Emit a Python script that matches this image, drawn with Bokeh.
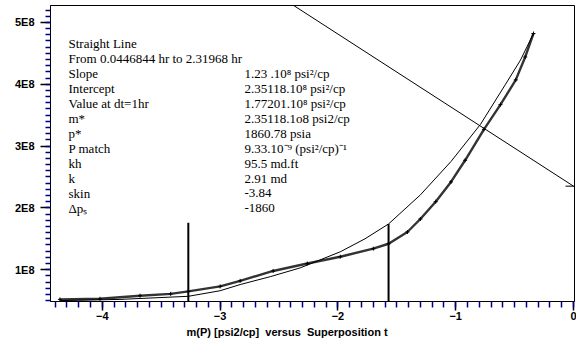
from bokeh.plotting import figure
from bokeh.models import FixedTicker, Label, Range1d, Title
from bokeh.embed import file_html
from bokeh.resources import INLINE

# ---- data ----
data_x = [-4.36, -4.02, -3.68, -3.42, -3.27, -3.00, -2.83, -2.55, -2.26, -1.98, -1.70,
          -1.57, -1.41, -1.30, -1.17, -1.04, -0.92, -0.76, -0.62, -0.49, -0.41, -0.34]
data_y = [0.52e8, 0.53e8, 0.58e8, 0.61e8, 0.65e8, 0.73e8, 0.82e8, 0.98e8, 1.10e8, 1.21e8,
          1.34e8, 1.42e8, 1.61e8, 1.82e8, 2.10e8, 2.42e8, 2.77e8, 3.27e8, 3.67e8, 4.07e8,
          4.44e8, 4.82e8]

model_x = [-4.36, -3.85, -3.27, -3.00, -2.83, -2.57, -2.32, -1.98, -1.77, -1.57, -1.30,
           -1.04, -0.79, -0.58, -0.45, -0.34]
model_y = [0.50e8, 0.52e8, 0.57e8, 0.66e8, 0.76e8, 0.89e8, 1.03e8, 1.29e8, 1.50e8, 1.74e8,
           2.21e8, 2.75e8, 3.35e8, 3.99e8, 4.39e8, 4.82e8]

slope = 1.23e8
intercept = 2.35118e8
line_x = [-2.6, 0.0]

range_x = [-3.27, -1.57]
range_top = [1.76e8, 1.74e8]

x_major = [-4, -3, -2, -1, 0]
y_major = [1e8, 2e8, 3e8, 4e8, 5e8]
y_major_labels = ["1E8", "2E8", "3E8", "4E8", "5E8"]

info_labels = ["Straight Line", "From 0.0446844 hr to 2.31968 hr", "Slope", "Intercept",
               "Value at dt=1hr", "m*", "p*", "P match", "kh", "k", "skin", "\u0394p\u209b"]
info_values = ["", "", "1.23 .10\u2078 psi\u00b2/cp", "2.35118.10\u2078 psi\u00b2/cp",
               "1.77201.10\u2078 psi\u00b2/cp", "2.35118.1o8 psi2/cp", "1860.78 psia",
               "9.33.10\u207b\u2079 (psi\u00b2/cp)\u207b\u00b9", "95.5 md.ft", "2.91 md",
               "-3.84", "-1860"]

x_title = "m(P) [psi2/cp]\u00a0 versus\u00a0 Superposition t"

# ---- figure ----
X0, X1 = -4.44, 0.0085
Y0, Y1 = 0.486e8, 5.273e8
p = figure(width=576, height=338, output_backend="svg", toolbar_location=None,
           x_range=Range1d(X0, X1), y_range=Range1d(Y0, Y1),
           min_border_left=50, min_border_right=2, min_border_top=5, min_border_bottom=0)
p.background_fill_color = "white"
p.border_fill_color = "white"
p.outline_line_color = "black"
p.outline_line_width = 1
p.xgrid.visible = False
p.ygrid.visible = False

p.xaxis.ticker = FixedTicker(ticks=x_major,
                             minor_ticks=[round(k / 10, 1) for k in range(-44, 1)])
p.yaxis.ticker = FixedTicker(ticks=y_major, minor_ticks=[k * 1e7 for k in range(5, 53)])
p.yaxis.major_label_overrides = {float(t): l for t, l in zip(y_major, y_major_labels)}

for ax in (p.xaxis, p.yaxis):
    ax.axis_line_color = "black"
    ax.major_tick_line_color = "black"
    ax.major_tick_line_width = 1.5
    ax.minor_tick_line_color = "navy"
    ax.minor_tick_line_width = 1.5
    ax.major_tick_in = 0
    ax.major_label_text_font = "Liberation Sans"
    ax.major_label_text_font_style = "bold"
    ax.major_label_text_font_size = "11px"
    ax.major_label_text_color = "black"
p.yaxis.major_tick_out = 10
p.yaxis.minor_tick_out = 5
p.yaxis.major_label_standoff = 6
p.xaxis.major_tick_out = 9
p.xaxis.minor_tick_out = 6
p.xaxis.major_label_standoff = 1

p.add_layout(Title(text=x_title, align="left", offset=136, standoff=2,
                   text_font="Liberation Sans", text_font_style="bold",
                   text_font_size="11px", text_color="black"), "below")

# straight line and its intercept mark
p.line(line_x, [intercept - slope * x for x in line_x], line_color="black", line_width=1)
p.scatter([0], [intercept], marker="dash", size=16, line_color="black", line_width=1)

# model curve
p.line(model_x, model_y, line_color="black", line_width=1)

# measured data
p.line(data_x, data_y, line_color="black", line_width=2.4, line_alpha=0.8)
p.scatter(data_x, data_y, marker="cross", size=4, line_color="black", line_width=1)

# straight-line range markers
p.segment(x0=range_x, y0=[Y0] * len(range_x), x1=range_x, y1=range_top,
          line_color="black", line_width=2)

# info text block (page-pixel layout converted to data units)
def px_to_x(px):
    return X0 + (px - 50) / (574 - 50) * (X1 - X0)

def py_to_y(py):
    return Y0 + (303 - py) / (303 - 5) * (Y1 - Y0)

for i, (lab, val) in enumerate(zip(info_labels, info_values)):
    yy = py_to_y(43 + 15.1 * i)
    p.add_layout(Label(x=px_to_x(68), y=yy, text=lab, text_font="Liberation Serif",
                       text_font_size="13px", text_baseline="middle", text_color="black"))
    if val:
        p.add_layout(Label(x=px_to_x(244), y=yy, text=val, text_font="Liberation Serif",
                           text_font_size="13px", text_baseline="middle", text_color="black"))

open("out.html", "w").write(file_html(p, INLINE))
